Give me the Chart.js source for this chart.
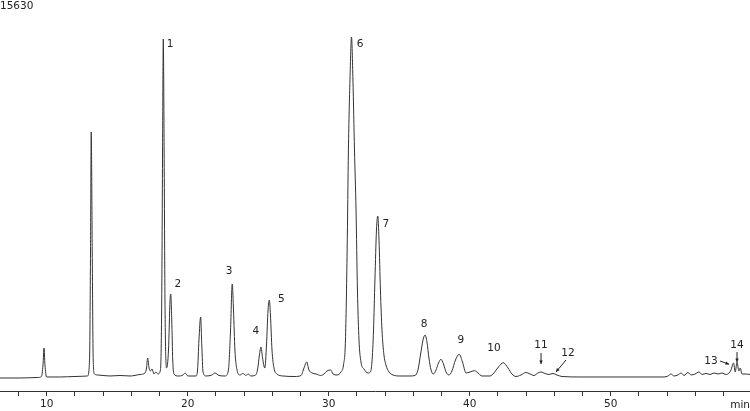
<!DOCTYPE html>
<html>
<head>
<meta charset="utf-8">
<script src="https://cdn.jsdelivr.net/npm/chart.js@4.4.1/dist/chart.umd.min.js"></script>
<style>
  html, body { margin: 0; padding: 0; background: #fff; }
  #wrap { width: 750px; height: 411px; position: relative; }
</style>
</head>
<body>
<div id="wrap"><canvas id="chrom"></canvas></div>
<script>
// retention time (min) and detector response
const times = [
  6.69, 8.11, 9.38, 9.63, 9.74, 9.81, 9.88, 9.99, 10.94, 12.01,
  12.89, 13.04, 13.11, 13.16, 13.23, 13.30, 13.39, 13.64, 14.49, 15.20,
  15.91, 16.62, 16.97, 17.08, 17.16, 17.26, 17.36, 17.47, 17.61, 17.75,
  17.89, 18.07, 18.16, 18.22, 18.27, 18.33, 18.39, 18.50, 18.64, 18.75,
  18.80, 18.87, 18.94, 19.03, 19.31, 19.67, 19.81, 20.02, 20.59, 20.70,
  20.80, 20.92, 21.00, 21.09, 21.30, 21.72, 21.94, 22.22, 22.65, 22.89,
  23.04, 23.16, 23.25, 23.35, 23.50, 23.71, 23.92, 24.14, 24.28, 24.49,
  24.77, 24.95, 25.09, 25.20, 25.31, 25.47, 25.59, 25.70, 25.79, 25.87,
  25.98, 26.12, 26.33, 26.76, 27.61, 28.04, 28.25, 28.44, 28.60, 28.82,
  29.10, 29.43, 29.67, 29.88, 30.14, 30.31, 30.59, 30.87, 31.05, 31.19,
  31.31, 31.40, 31.51, 31.62, 31.72, 31.83, 31.94, 32.04, 32.15, 32.29,
  32.50, 32.79, 32.96, 33.07, 33.18, 33.28, 33.39, 33.48, 33.57, 33.67,
  33.78, 33.92, 34.06, 34.28, 34.56, 35.06, 35.77, 36.12, 36.33, 36.51,
  36.69, 36.83, 36.97, 37.11, 37.26, 37.42, 37.61, 37.79, 37.96, 38.14,
  38.32, 38.53, 38.74, 38.99, 39.26, 39.49, 39.74, 40.02, 40.33, 40.59,
  40.87, 41.44, 41.72, 42.04, 42.38, 42.72, 43.00, 43.28, 43.64, 43.99,
  44.28, 44.56, 44.84, 45.06, 45.34, 45.62, 45.91, 46.19, 46.55, 47.82,
  50.66, 53.78, 54.06, 54.28, 54.49, 54.77, 54.99, 55.20, 55.48, 55.70,
  55.98, 56.26, 56.48, 56.76, 57.04, 57.33, 57.61, 57.89, 58.18, 58.39,
  58.53, 58.71, 58.83, 58.96, 59.09, 59.19, 59.31, 59.53, 59.88
];
const response = [
  -46, -46, -23, 23, 552, 1333, 552, 0, 0, 23,
  46, 781, 5838, 11263, 5838, 781, 138, 92, 46, 69,
  46, 115, 184, 414, 873, 414, 276, 368, 138, 230,
  138, 322, 3540, 10435, 15538, 10435, 3540, 414, 1241, 3540,
  3815, 2620, 781, 138, 46, 92, 184, 46, 46, 322,
  1701, 2758, 1471, 230, 46, 92, 184, 69, 46, 322,
  2161, 4275, 3080, 1241, 322, 92, 161, 69, 138, 46,
  69, 322, 1011, 1379, 873, 414, 1471, 3080, 3540, 2850,
  1241, 414, 138, 46, 23, 69, 414, 690, 322, 184,
  138, 69, 138, 276, 322, 138, 92, 230, 552, 1701,
  5838, 10435, 13653, 15630, 13653, 10435, 7677, 3999, 1701, 690,
  368, 184, 230, 690, 2161, 4459, 6758, 7401, 6298, 3999,
  2161, 1011, 552, 230, 92, 46, 46, 69, 322, 1011,
  1701, 1931, 1609, 873, 322, 138, 322, 644, 814, 598,
  230, 92, 276, 781, 1044, 690, 184, 230, 290, 184,
  46, 46, 184, 460, 657, 414, 138, 23, 92, 207,
  138, 69, 184, 230, 161, 115, 161, 92, 23, 0,
  0, 0, 46, 138, 46, 92, 184, 69, 207, 92,
  138, 230, 115, 161, 115, 184, 138, 184, 115, 184,
  322, 644, 230, 690, 276, 414, 138, 138, 115
];

// peak numbers and where their labels sit (time, response)
const peakLabels = ['1', '2', '3', '4', '5', '6', '7', '8', '9', '10', '11', '12', '13', '14'];
const labelTimes = [18.75, 19.31, 22.93, 24.84, 26.65, 32.22, 34.06, 36.76, 39.38, 41.72, 45.06, 46.97, 57.11, 58.96];
const labelValues = [15308, 4275, 4873, 2115, 3586, 15308, 7033, 2436, 1701, 1333, 1471, 1103, 736, 1471];

// small arrows for minor peaks: [t0, v0, t1, v1]
const arrows = [
  [45.06, 1103, 45.06, 598],
  [46.83, 781, 46.12, 230],
  [57.75, 736, 58.40, 584],
  [58.96, 1149, 58.96, 690]
];

const yMaxLabel = '15630';
const FONT = '10.5px "DejaVu Sans", Verdana, sans-serif';

const annotate = {
  id: 'annotate',
  afterDatasetsDraw(chart) {
    const { ctx, scales: { x, y } } = chart;
    ctx.save();
    ctx.fillStyle = '#222';
    ctx.font = FONT;
    ctx.textAlign = 'center';
    ctx.textBaseline = 'middle';
    peakLabels.forEach((lab, i) => {
      ctx.fillText(lab, x.getPixelForValue(labelTimes[i]), y.getPixelForValue(labelValues[i]));
    });

    ctx.strokeStyle = '#222';
    ctx.lineWidth = 1;
    arrows.forEach(a => {
      const x0 = x.getPixelForValue(a[0]), y0 = y.getPixelForValue(a[1]);
      const x1 = x.getPixelForValue(a[2]), y1 = y.getPixelForValue(a[3]);
      ctx.beginPath();
      ctx.moveTo(x0, y0);
      ctx.lineTo(x1, y1);
      ctx.stroke();
      const ang = Math.atan2(y1 - y0, x1 - x0);
      ctx.beginPath();
      ctx.moveTo(x1, y1);
      ctx.lineTo(x1 - 4 * Math.cos(ang - 0.45), y1 - 4 * Math.sin(ang - 0.45));
      ctx.lineTo(x1 - 4 * Math.cos(ang + 0.45), y1 - 4 * Math.sin(ang + 0.45));
      ctx.closePath();
      ctx.fill();
    });

    ctx.textAlign = 'left';
    ctx.textBaseline = 'top';
    ctx.fillText(yMaxLabel, 0, 1);
    ctx.textAlign = 'right';
    ctx.textBaseline = 'middle';
    ctx.fillText('min', 750, 405);
    ctx.restore();
  }
};

new Chart(document.getElementById('chrom').getContext('2d'), {
  type: 'line',
  data: {
    datasets: [{
      data: times.map((t, i) => ({ x: t, y: response[i] })),
      borderColor: '#333',
      borderWidth: 1,
      pointRadius: 0,
      fill: false,
      cubicInterpolationMode: 'monotone'
    }]
  },
  options: {
    responsive: true,
    maintainAspectRatio: false,
    animation: false,
    layout: { padding: { top: 37, left: 0, right: 0, bottom: 0 } },
    plugins: { legend: { display: false }, tooltip: { enabled: false } },
    scales: {
      x: {
        type: 'linear',
        min: 6.69,
        max: 59.88,
        afterFit(scale) { scale.height = 20; },
        border: { display: true, color: '#333', width: 1 },
        grid: { drawOnChartArea: false, drawTicks: true, tickLength: 5, color: '#333' },
        ticks: {
          stepSize: 2,
          includeBounds: false,
          autoSkip: false,
          maxRotation: 0,
          padding: 2,
          color: '#222',
          font: { family: '"DejaVu Sans", Verdana, sans-serif', size: 10.5 },
          callback: v => (v % 10 === 0 ? String(v) : '')
        }
      },
      y: {
        display: false,
        min: -644,
        max: 15630
      }
    }
  },
  plugins: [annotate]
});
</script>
</body>
</html>
